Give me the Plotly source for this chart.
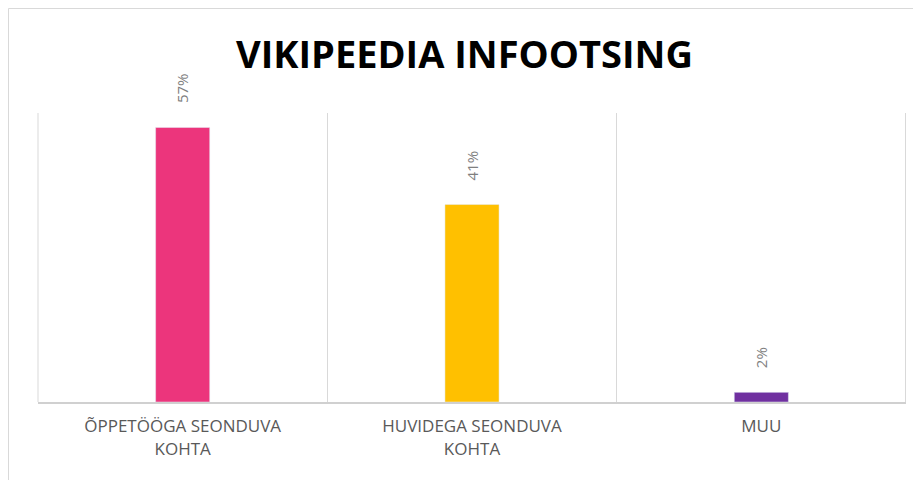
import plotly.graph_objects as go

categories = ["ÕPPETÖÖGA SEONDUVA<br>KOHTA", "HUVIDEGA SEONDUVA<br>KOHTA", "MUU"]
values = [57, 41, 2]
labels = ["57%", "41%", "2%"]
colors = ["#EC357C", "#FFC000", "#7030A0"]

# page body has an 8px margin, so the figure is placed at (8, 8)
W, H = 913, 472
ml, mr, mt, mb = 30, 15, 105, 78
pw, ph = W - ml - mr, H - mt - mb


def fx(p):
    return (p - ml) / pw


def fy(p):
    return (H - mb - p) / ph


fig = go.Figure(go.Bar(
    x=categories, y=values, marker_color=colors, width=0.187,
    hoverinfo="skip",
))

annotations = [
    dict(x=c, y=v, xref="x", yref="y", text=t, showarrow=False,
         textangle=-90, yanchor="bottom", xanchor="center", yshift=22,
         font=dict(family="Open Sans", size=15, color="#7F7F7F"))
    for c, v, t in zip(categories, values, labels)
]

fig.update_layout(
    width=W, height=H,
    margin=dict(l=ml, r=mr, t=mt, b=mb),
    paper_bgcolor="white", plot_bgcolor="white",
    showlegend=False,
    title=dict(text="<b>VIKIPEEDIA INFOOTSING</b>", x=0.5, xanchor="center",
               y=1 - 47 / H, yanchor="middle",
               font=dict(family="Open Sans", size=38, color="#000000")),
    xaxis=dict(type="category", tickson="boundaries", showgrid=True,
               gridcolor="#D9D9D9", gridwidth=1, ticks="",
               showline=True, linecolor="#D0D0D0", linewidth=2,
               ticklabelstandoff=8,
               tickfont=dict(family="Open Sans", size=17, color="#595959")),
    yaxis=dict(range=[0, 60], showgrid=False, showticklabels=False,
               zeroline=False, showline=False, ticks=""),
    annotations=annotations,
    shapes=[
        dict(type="line", xref="paper", yref="paper", x0=0, x1=0, y0=0, y1=1,
             line=dict(color="#D9D9D9", width=1), layer="below"),
        dict(type="line", xref="paper", yref="paper", x0=fx(897.5), x1=fx(897.5),
             y0=0, y1=1, line=dict(color="#D9D9D9", width=1), layer="above"),
        dict(type="rect", xref="paper", yref="paper",
             x0=fx(0.5), x1=fx(W + 5), y0=fy(H + 5), y1=fy(0.5),
             line=dict(color="#D9D9D9", width=1), layer="above"),
    ],
)

fig.write_html("out.html")
